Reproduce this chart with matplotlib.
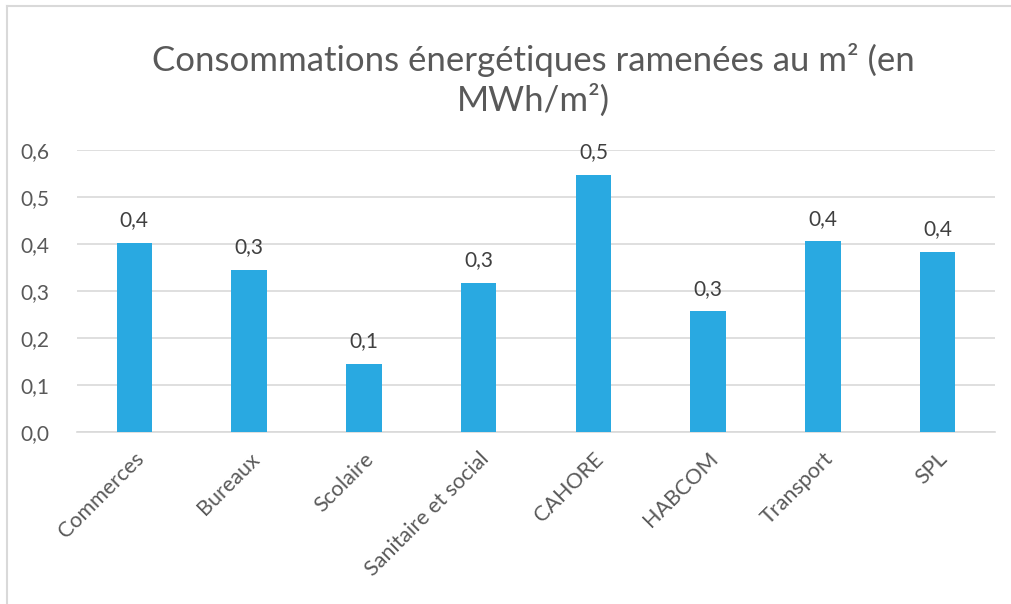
import matplotlib.pyplot as plt
from matplotlib.lines import Line2D

categories = ["Commerces", "Bureaux", "Scolaire", "Sanitaire et social",
              "CAHORE", "HABCOM", "Transport", "SPL"]
values = [0.402, 0.345, 0.145, 0.317, 0.547, 0.257, 0.406, 0.383]
yticks = [0.0, 0.1, 0.2, 0.3, 0.4, 0.5, 0.6]

bar_color = "#29A9E1"
text_color = "#595959"
grid_color = "#D9D9D9"

plt.rcParams["font.family"] = ["Lato", "DejaVu Sans"]

fig = plt.figure(figsize=(10.11, 6.04), dpi=100)
ax = fig.add_axes([77 / 1011, 1 - 432 / 604, (995 - 77) / 1011, (432 - 150) / 604])

x = list(range(len(categories)))
ax.bar(x, values, width=0.31, color=bar_color, zorder=3)
ax.set_xlim(-0.5, len(categories) - 0.5)
ax.set_ylim(0, 0.6)

for xi, v in zip(x, values):
    ax.annotate(f"{v:.1f}".replace(".", ","), (xi, v), xytext=(0, 9),
                textcoords="offset points", ha="center", va="bottom",
                fontsize=15, color="#404040")

ax.set_yticks(yticks)
ax.set_yticklabels([f"{t:.1f}".replace(".", ",") for t in yticks],
                   fontsize=15, color=text_color)
ax.tick_params(axis="y", length=0, pad=20)
ax.yaxis.grid(True, color=grid_color, linewidth=1.2, zorder=0)

ax.set_xticks(x)
ax.set_xticklabels(categories, rotation=45, ha="right", rotation_mode="anchor",
                   fontsize=15.5, color=text_color)
ax.tick_params(axis="x", length=0, pad=12)

for s in ["top", "right", "left"]:
    ax.spines[s].set_visible(False)
ax.spines["bottom"].set_color(grid_color)
ax.spines["bottom"].set_linewidth(1.2)

fig.text(0.528, 1 - 80 / 604, "Consommations énergétiques ramenées au m² (en\nMWh/m²)",
         ha="center", va="center", fontsize=25, color=text_color, linespacing=1.25)

fig.add_artist(Line2D([7 / 1011, 7 / 1011], [0, 1 - 6 / 604], color=grid_color, lw=1.5))
fig.add_artist(Line2D([7 / 1011, 1], [1 - 6 / 604, 1 - 6 / 604], color=grid_color, lw=1.5))

fig.savefig("out.png", dpi=100)
